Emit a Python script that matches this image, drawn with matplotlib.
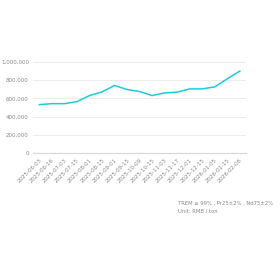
import numpy as np
from matplotlib import pyplot as plt

dates = [
    "2025-06-03", "2025-06-16", "2025-07-03", "2025-07-15", "2025-08-01",
    "2025-08-15", "2025-09-01", "2025-09-15", "2025-10-09", "2025-10-15",
    "2025-11-03", "2025-11-17", "2025-12-01", "2025-12-15", "2026-01-05",
    "2026-01-15", "2026-02-06",
]
price = [
    531000, 542000, 542000, 564000, 630000,
    670000, 740000, 696000, 674000, 630000,
    659000, 667000, 703000, 703000, 725000,
    813000, 897000,
]
yticks = [0, 200000, 400000, 600000, 800000, 1000000]

fig = plt.figure(figsize=(2.8, 2.8), dpi=100)
ax = fig.add_axes([0.118, 0.452, 0.761, 0.328])

x = np.arange(len(dates))
ax.plot(x, price, color="#1ccbe0", linewidth=1.1)

ax.set_xlim(-0.5, len(dates) - 0.5)
ax.set_ylim(0, 1000000)
ax.set_yticks(yticks)
ax.set_yticklabels([f"{v:,}" for v in yticks])
ax.set_xticks(x)
ax.set_xticklabels(dates, rotation=45, ha="right", rotation_mode="anchor")

ax.grid(axis="y", color="#ececec", linewidth=0.7)
ax.set_axisbelow(True)
for s in ["top", "right", "left"]:
    ax.spines[s].set_visible(False)
ax.spines["bottom"].set_color("#d8d8d8")
ax.spines["bottom"].set_linewidth(0.9)
ax.tick_params(axis="both", length=0, colors="#888888", labelsize=4.0, pad=3)

fig.text(0.636, 0.268, "TREM ≥ 99% , Pr25±2% , Nd75±2%", fontsize=3.75, color="#888888")
fig.text(0.636, 0.240, "Unit: RMB / ton", fontsize=3.75, color="#888888")

fig.savefig("out.png", dpi=100)
